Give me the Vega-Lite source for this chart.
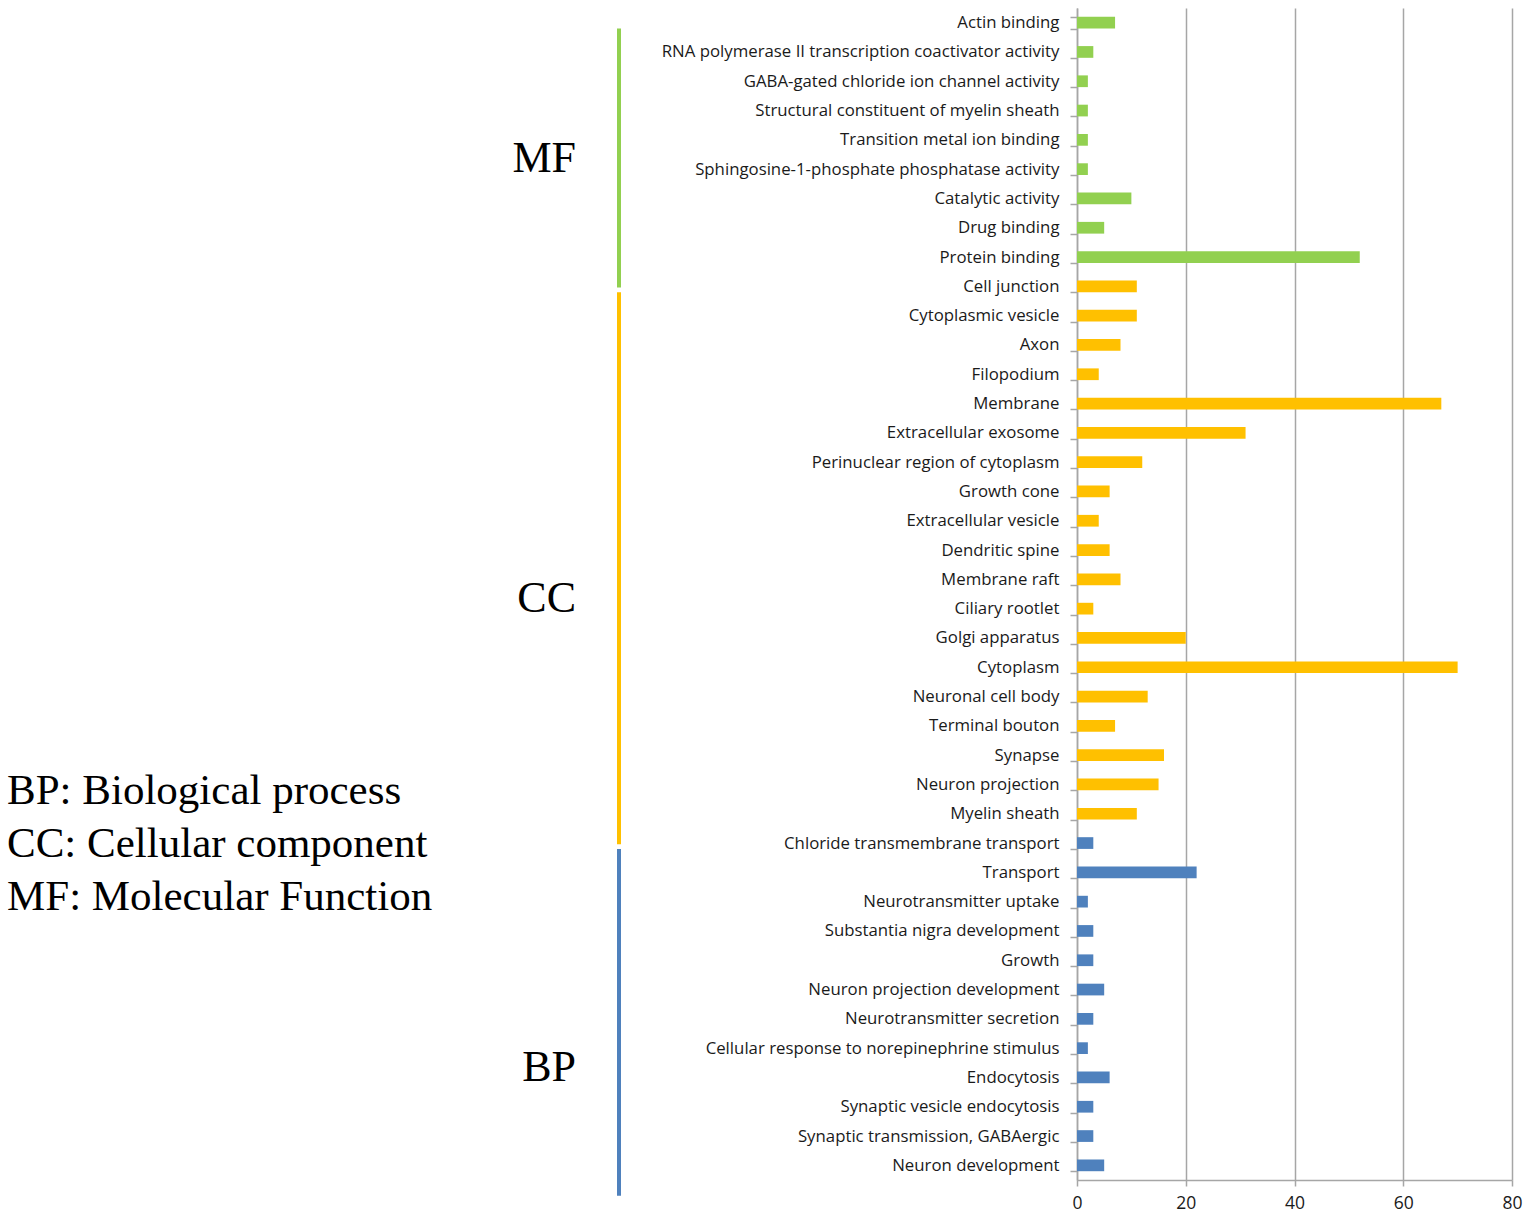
{
  "$schema": "https://vega.github.io/schema/vega-lite/v6.json",
  "padding": {"left": 0, "top": 0, "right": 0, "bottom": 0},
  "background": "white",
  "bounds": "flush",
  "spacing": 458,
  "config": {"view": {"stroke": null}},
  "resolve": {"scale": {"y": "shared", "color": "shared"}},
  "datasets": {
    "terms": [
      {"term": "Actin binding", "count": 7, "group": "MF"},
      {"term": "RNA polymerase II transcription coactivator activity", "count": 3, "group": "MF"},
      {"term": "GABA-gated chloride ion channel activity", "count": 2, "group": "MF"},
      {"term": "Structural constituent of myelin sheath", "count": 2, "group": "MF"},
      {"term": "Transition metal ion binding", "count": 2, "group": "MF"},
      {"term": "Sphingosine-1-phosphate phosphatase activity", "count": 2, "group": "MF"},
      {"term": "Catalytic activity", "count": 10, "group": "MF"},
      {"term": "Drug binding", "count": 5, "group": "MF"},
      {"term": "Protein binding", "count": 52, "group": "MF"},
      {"term": "Cell junction", "count": 11, "group": "CC"},
      {"term": "Cytoplasmic vesicle", "count": 11, "group": "CC"},
      {"term": "Axon", "count": 8, "group": "CC"},
      {"term": "Filopodium", "count": 4, "group": "CC"},
      {"term": "Membrane", "count": 67, "group": "CC"},
      {"term": "Extracellular exosome", "count": 31, "group": "CC"},
      {"term": "Perinuclear region of cytoplasm", "count": 12, "group": "CC"},
      {"term": "Growth cone", "count": 6, "group": "CC"},
      {"term": "Extracellular vesicle", "count": 4, "group": "CC"},
      {"term": "Dendritic spine", "count": 6, "group": "CC"},
      {"term": "Membrane raft", "count": 8, "group": "CC"},
      {"term": "Ciliary rootlet", "count": 3, "group": "CC"},
      {"term": "Golgi apparatus", "count": 20, "group": "CC"},
      {"term": "Cytoplasm", "count": 70, "group": "CC"},
      {"term": "Neuronal cell body", "count": 13, "group": "CC"},
      {"term": "Terminal bouton", "count": 7, "group": "CC"},
      {"term": "Synapse", "count": 16, "group": "CC"},
      {"term": "Neuron projection", "count": 15, "group": "CC"},
      {"term": "Myelin sheath", "count": 11, "group": "CC"},
      {"term": "Chloride transmembrane transport", "count": 3, "group": "BP"},
      {"term": "Transport", "count": 22, "group": "BP"},
      {"term": "Neurotransmitter uptake", "count": 2, "group": "BP"},
      {"term": "Substantia nigra development", "count": 3, "group": "BP"},
      {"term": "Growth", "count": 3, "group": "BP"},
      {"term": "Neuron projection development", "count": 5, "group": "BP"},
      {"term": "Neurotransmitter secretion", "count": 3, "group": "BP"},
      {"term": "Cellular response to norepinephrine stimulus", "count": 2, "group": "BP"},
      {"term": "Endocytosis", "count": 6, "group": "BP"},
      {"term": "Synaptic vesicle endocytosis", "count": 3, "group": "BP"},
      {"term": "Synaptic transmission, GABAergic", "count": 3, "group": "BP"},
      {"term": "Neuron development", "count": 5, "group": "BP"}
    ],
    "groups": [
      {"group": "MF", "first": "Actin binding", "last": "Protein binding", "anchor": "Sphingosine-1-phosphate phosphatase activity"},
      {"group": "CC", "first": "Cell junction", "last": "Myelin sheath", "anchor": "Ciliary rootlet"},
      {"group": "BP", "first": "Chloride transmembrane transport", "last": "Neuron development", "anchor": "Endocytosis"}
    ],
    "key": [
      {"anchor": "Neuron projection", "text": ["BP: Biological process", "CC: Cellular component", "MF: Molecular Function"]}
    ]
  },
  "hconcat": [
    {
      "width": 619,
      "height": 1172,
      "layer": [
        {
          "data": {"name": "groups"},
          "mark": {"type": "rule", "strokeWidth": 4, "strokeCap": "butt"},
          "encoding": {
            "x": {"value": "width"},
            "y": {"field": "first", "type": "nominal", "bandPosition": 1.0, "axis": null,
              "scale": {"domain": ["Actin binding", "RNA polymerase II transcription coactivator activity", "GABA-gated chloride ion channel activity", "Structural constituent of myelin sheath", "Transition metal ion binding", "Sphingosine-1-phosphate phosphatase activity", "Catalytic activity", "Drug binding", "Protein binding", "Cell junction", "Cytoplasmic vesicle", "Axon", "Filopodium", "Membrane", "Extracellular exosome", "Perinuclear region of cytoplasm", "Growth cone", "Extracellular vesicle", "Dendritic spine", "Membrane raft", "Ciliary rootlet", "Golgi apparatus", "Cytoplasm", "Neuronal cell body", "Terminal bouton", "Synapse", "Neuron projection", "Myelin sheath", "Chloride transmembrane transport", "Transport", "Neurotransmitter uptake", "Substantia nigra development", "Growth", "Neuron projection development", "Neurotransmitter secretion", "Cellular response to norepinephrine stimulus", "Endocytosis", "Synaptic vesicle endocytosis", "Synaptic transmission, GABAergic", "Neuron development"], "paddingInner": 0.6, "paddingOuter": 0.3}},
            "y2": {"field": "last", "bandPosition": 3.1},
            "color": {"field": "group", "type": "nominal", "legend": null}
          }
        },
        {
          "data": {"name": "groups"},
          "mark": {"type": "text", "font": "Liberation Serif", "fontSize": 44, "align": "right", "baseline": "middle", "dx": -43, "dy": -4, "color": "#000000"},
          "encoding": {
            "x": {"value": "width"},
            "y": {"field": "anchor", "type": "nominal", "bandPosition": 0, "axis": null,
              "scale": {"domain": ["Actin binding", "RNA polymerase II transcription coactivator activity", "GABA-gated chloride ion channel activity", "Structural constituent of myelin sheath", "Transition metal ion binding", "Sphingosine-1-phosphate phosphatase activity", "Catalytic activity", "Drug binding", "Protein binding", "Cell junction", "Cytoplasmic vesicle", "Axon", "Filopodium", "Membrane", "Extracellular exosome", "Perinuclear region of cytoplasm", "Growth cone", "Extracellular vesicle", "Dendritic spine", "Membrane raft", "Ciliary rootlet", "Golgi apparatus", "Cytoplasm", "Neuronal cell body", "Terminal bouton", "Synapse", "Neuron projection", "Myelin sheath", "Chloride transmembrane transport", "Transport", "Neurotransmitter uptake", "Substantia nigra development", "Growth", "Neuron projection development", "Neurotransmitter secretion", "Cellular response to norepinephrine stimulus", "Endocytosis", "Synaptic vesicle endocytosis", "Synaptic transmission, GABAergic", "Neuron development"], "paddingInner": 0.6, "paddingOuter": 0.3}},
            "text": {"field": "group"}
          }
        },
        {
          "data": {"name": "key"},
          "mark": {"type": "text", "font": "Liberation Serif", "fontSize": 43, "align": "left", "baseline": "middle", "lineHeight": 53, "dx": 7, "color": "#000000"},
          "encoding": {
            "x": {"value": 0},
            "y": {"field": "anchor", "type": "nominal", "bandPosition": 1.1, "axis": null,
              "scale": {"domain": ["Actin binding", "RNA polymerase II transcription coactivator activity", "GABA-gated chloride ion channel activity", "Structural constituent of myelin sheath", "Transition metal ion binding", "Sphingosine-1-phosphate phosphatase activity", "Catalytic activity", "Drug binding", "Protein binding", "Cell junction", "Cytoplasmic vesicle", "Axon", "Filopodium", "Membrane", "Extracellular exosome", "Perinuclear region of cytoplasm", "Growth cone", "Extracellular vesicle", "Dendritic spine", "Membrane raft", "Ciliary rootlet", "Golgi apparatus", "Cytoplasm", "Neuronal cell body", "Terminal bouton", "Synapse", "Neuron projection", "Myelin sheath", "Chloride transmembrane transport", "Transport", "Neurotransmitter uptake", "Substantia nigra development", "Growth", "Neuron projection development", "Neurotransmitter secretion", "Cellular response to norepinephrine stimulus", "Endocytosis", "Synaptic vesicle endocytosis", "Synaptic transmission, GABAergic", "Neuron development"], "paddingInner": 0.6, "paddingOuter": 0.3}},
            "text": {"field": "text"}
          }
        }
      ]
    },
    {
      "width": 435,
      "height": 1172,
      "data": {"name": "terms"},
      "mark": {"type": "bar"},
      "encoding": {
        "y": {
          "field": "term",
          "type": "nominal",
          "scale": {"domain": ["Actin binding", "RNA polymerase II transcription coactivator activity", "GABA-gated chloride ion channel activity", "Structural constituent of myelin sheath", "Transition metal ion binding", "Sphingosine-1-phosphate phosphatase activity", "Catalytic activity", "Drug binding", "Protein binding", "Cell junction", "Cytoplasmic vesicle", "Axon", "Filopodium", "Membrane", "Extracellular exosome", "Perinuclear region of cytoplasm", "Growth cone", "Extracellular vesicle", "Dendritic spine", "Membrane raft", "Ciliary rootlet", "Golgi apparatus", "Cytoplasm", "Neuronal cell body", "Terminal bouton", "Synapse", "Neuron projection", "Myelin sheath", "Chloride transmembrane transport", "Transport", "Neurotransmitter uptake", "Substantia nigra development", "Growth", "Neuron projection development", "Neurotransmitter secretion", "Cellular response to norepinephrine stimulus", "Endocytosis", "Synaptic vesicle endocytosis", "Synaptic transmission, GABAergic", "Neuron development"], "paddingInner": 0.6, "paddingOuter": 0.3},
          "axis": {
            "title": null,
            "tickBand": "extent",
            "tickSize": 7,
            "tickWidth": 1.5,
            "tickColor": "#a6a6a6",
            "domainColor": "#a6a6a6",
            "domainWidth": 1.5,
            "labelFont": "Open Sans",
            "labelFontSize": 16.8,
            "labelColor": "#1a1a1a",
            "labelPadding": 11,
            "labelLimit": 600,
            "grid": false
          }
        },
        "x": {
          "field": "count",
          "type": "quantitative",
          "scale": {"domain": [0, 80], "nice": false},
          "axis": {
            "title": null,
            "values": [0, 20, 40, 60, 80],
            "grid": true,
            "gridColor": "#a6a6a6",
            "gridWidth": 1.5,
            "tickSize": 6,
            "tickWidth": 1.5,
            "tickColor": "#a6a6a6",
            "domainColor": "#a6a6a6",
            "domainWidth": 1.5,
            "labelFont": "Open Sans",
            "labelFontSize": 17.5,
            "labelColor": "#1a1a1a",
            "labelPadding": 8,
            "labelFlush": false
          }
        },
        "color": {
          "field": "group",
          "type": "nominal",
          "scale": {"domain": ["MF", "CC", "BP"], "range": ["#92D050", "#FFC000", "#4F81BD"]},
          "legend": null
        }
      }
    }
  ]
}
